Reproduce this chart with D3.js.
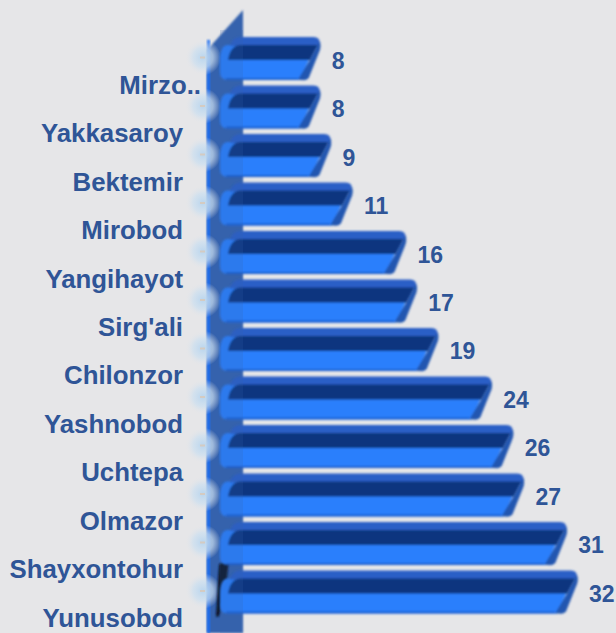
<!DOCTYPE html>
<html><head><meta charset="utf-8">
<script src="https://cdn.jsdelivr.net/npm/d3@7/dist/d3.min.js"></script>
<style>
html,body{margin:0;padding:0;background:#e6e6e8;}
svg{display:block;}
</style></head>
<body>
<script>
const categories = ["Mirzo..","Yakkasaroy","Bektemir","Mirobod","Yangihayot","Sirg'ali","Chilonzor","Yashnobod","Uchtepa","Olmazor","Shayxontohur","Yunusobod"];
const values = [8,8,9,11,16,17,19,24,26,27,31,32];
const xDomain = [0, 32];

const W = 616, H = 633;
const svg = d3.select("body").append("svg").attr("width", W).attr("height", H);
svg.append("rect").attr("width", W).attr("height", H).attr("fill", "#e6e6e8");

const x = d3.scaleLinear().domain(xDomain).range([234, 577]);
const y = d3.scaleBand().domain(categories).range([37, 613.5]).paddingInner(0.113).paddingOuter(0);
const bw = y.bandwidth();
const depth = 14;

const defs = svg.append("defs");
const glow = defs.append("radialGradient").attr("id", "glow");
glow.append("stop").attr("offset", "0%").attr("stop-color", "#b9d5ee").attr("stop-opacity", 1);
glow.append("stop").attr("offset", "55%").attr("stop-color", "#cbdff0").attr("stop-opacity", 0.7);
glow.append("stop").attr("offset", "100%").attr("stop-color", "#e6e6e8").attr("stop-opacity", 0);
const blur = defs.append("filter").attr("id", "soft").attr("x", "-10%").attr("y", "-10%").attr("width", "120%").attr("height", "120%");
blur.append("feGaussianBlur").attr("stdDeviation", 0.8);

// wall
const wallL = x(0) - 27, wallR = x(0) + 9;
svg.append("path")
  .attr("d", `M${wallL},50 L${wallR},10 L${wallR},${H} L${wallL},${H} Z`)
  .attr("fill", "#3562ad").attr("filter", "url(#soft)");
svg.append("rect").attr("x", wallL).attr("y", 40).attr("width", 3).attr("height", H - 40)
  .attr("fill", "#1f6cf0").attr("filter", "url(#soft)");

// glows + ticks
const g0 = svg.append("g");
categories.forEach(c => {
  const cy = y(c) + bw / 2 - 1;
  g0.append("ellipse").attr("cx", wallL - 4).attr("cy", cy).attr("rx", 18).attr("ry", 18).attr("fill", "url(#glow)");
  g0.append("line").attr("x1", wallL - 7).attr("x2", wallL - 2).attr("y1", cy).attr("y2", cy)
    .attr("stroke", "#d4cbc2").attr("stroke-width", 2);
});

// dark shadow at bottom
const lastY = y(categories[categories.length - 1]);
svg.append("path")
  .attr("d", `M${wallL + 12},${lastY - 6} L${wallL + 22},${lastY - 12} L${wallL + 20},${lastY + 8} L${wallL + 12},${lastY + 46} L${wallL + 9},${lastY + 46} Z`)
  .attr("fill", "#0b1426").attr("filter", "url(#soft)");

// bars
const bars = svg.append("g").attr("filter", "url(#soft)");
categories.forEach((c, i) => {
  const v = values[i];
  const x0 = x(0) - depth, x1 = x(v);
  const t = y(c), b = t + bw;
  const g = bars.append("g");
  // front face bright
  g.append("path")
    .attr("d", `M${x0 + 8},${t + 8} L${x1 - 4},${t + 8} L${x1 - 20},${b} L${x0 + 8},${b} Q${x0},${b} ${x0},${b - 8} L${x0},${t + 24} Q${x0},${t + 8} ${x0 + 8},${t + 8} Z`)
    .attr("fill", "#2a7ffc");
  // top rim
  g.append("path")
    .attr("d", `M${x0 + 22},${t} L${x1 - 6},${t} Q${x1},${t} ${x1},${t + 6} L${x1 - 2},${t + 9} L${x0 + 10},${t + 9} Q${x0 + 12},${t} ${x0 + 22},${t} Z`)
    .attr("fill", "#2b5fc6");
  // dark band
  g.append("path")
    .attr("d", `M${x0 + 20},${t + 8} L${x1 - 2},${t + 8} L${x1 - 10},${t + 23} L${x0 + 8},${t + 23} Q${x0 + 10},${t + 9} ${x0 + 20},${t + 8} Z`)
    .attr("fill", "#07347f");
  // right cap
  g.append("path")
    .attr("d", `M${x1},${t + 4} Q${x1 + 2},${t + 10} ${x1 - 1},${t + 16} L${x1 - 11},${b - 2} Q${x1 - 14},${b + 1} ${x1 - 18},${b} L${x1 - 22},${b} L${x1 - 10},${t + 23} L${x1 - 2},${t + 8} Z`)
    .attr("fill", "#2456b0");
  // bottom edge shade
  g.append("rect").attr("x", x0 + 6).attr("y", b - 2).attr("width", Math.max(0, x1 - x0 - 28)).attr("height", 2)
    .attr("fill", "#1a5fd0");
});

// wall overlay on bars portion
svg.append("rect").attr("x", x(0) - depth).attr("y", 30).attr("width", wallR - (x(0) - depth)).attr("height", H - 30)
  .attr("fill", "#3562ad").attr("opacity", 0.18);

// category labels
svg.append("g").selectAll("text").data(categories).join("text")
  .attr("x", d => d.endsWith("..") ? 201 : 183)
  .attr("y", d => y(d) + bw / 2 + 26)
  .attr("text-anchor", "end")
  .attr("dominant-baseline", "central")
  .attr("font-family", "'Liberation Sans', Arial, sans-serif")
  .attr("font-weight", "bold")
  .attr("font-size", 25.8)
  .attr("fill", "#2f5597")
  .text(d => d);

// value labels
svg.append("g").selectAll("text").data(values).join("text")
  .attr("x", (d) => x(d) + 12)
  .attr("y", (d, i) => y(categories[i]) + bw / 2 + 2)
  .attr("dominant-baseline", "central")
  .attr("font-family", "'Liberation Sans', Arial, sans-serif")
  .attr("font-weight", "bold")
  .attr("font-size", 23)
  .attr("fill", "#2f5597")
  .text(d => d);
</script>
</body></html>
